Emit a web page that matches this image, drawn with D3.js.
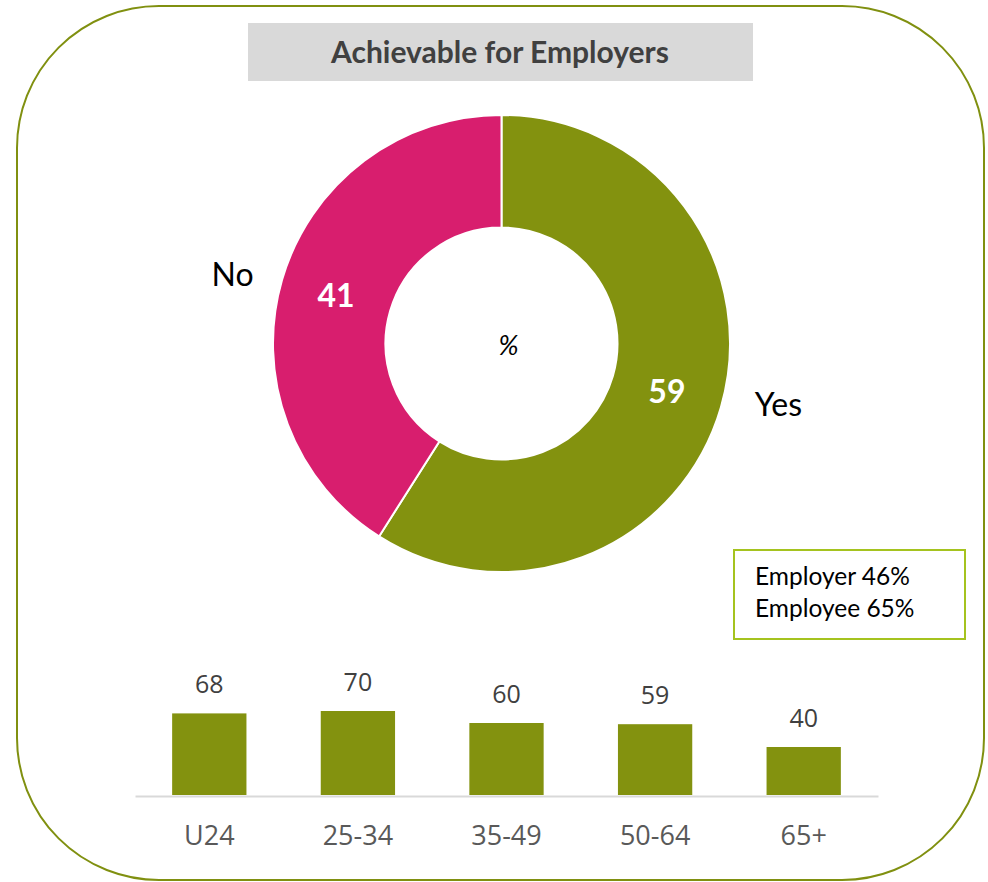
<!DOCTYPE html>
<html>
<head>
<meta charset="utf-8">
<script src="https://cdn.jsdelivr.net/npm/d3@7"></script>
<style>
  body { margin: 0; background: #fff; }
  svg { display: block; }
</style>
</head>
<body>
<div id="chart"></div>
<script>
// donut data
var pieLabels = ["Yes", "No"];
var pieValues = [59, 41];
var pieColors = ["#83920f", "#d81e6e"];

// age group bars
var ageGroups = ["U24", "25-34", "35-49", "50-64", "65+"];
var ageValues = [68, 70, 60, 59, 40];

var titleText = "Achievable for Employers";
var noteLines = ["Employer 46%", "Employee 65%"];

var width = 988, height = 882;

var svg = d3.select("#chart")
  .append("svg")
  .attr("width", width)
  .attr("height", height);

// rounded frame
svg.append("rect")
  .attr("x", 17)
  .attr("y", 6)
  .attr("width", 967)
  .attr("height", 874)
  .attr("rx", 142)
  .attr("ry", 142)
  .attr("fill", "none")
  .attr("stroke", "#809010")
  .attr("stroke-width", 2);

// title box
svg.append("rect")
  .attr("x", 248)
  .attr("y", 23)
  .attr("width", 505)
  .attr("height", 58)
  .attr("fill", "#d9d9d9");

svg.append("text")
  .attr("x", 500)
  .attr("y", 63)
  .attr("text-anchor", "middle")
  .style("font-family", "Lato, sans-serif")
  .style("font-weight", "bold")
  .style("font-size", "30px")
  .style("fill", "#404040")
  .text(titleText);

// donut
var cx = 501.5, cy = 343.5;
var outerR = 228.5, innerR = 116;

var pie = d3.pie().sort(null).value(function (d) { return d; });
var arcs = pie(pieValues);

var arc = d3.arc().innerRadius(innerR).outerRadius(outerR);
var labelArc = d3.arc().innerRadius(280).outerRadius(280);

var g = svg.append("g")
  .attr("transform", "translate(" + cx + "," + cy + ")");

g.selectAll("path")
  .data(arcs)
  .enter()
  .append("path")
  .attr("d", arc)
  .attr("fill", function (d, i) { return pieColors[i]; })
  .attr("stroke", "#fff")
  .attr("stroke-width", 2);

// values inside slices
g.selectAll("text.val")
  .data(arcs)
  .enter()
  .append("text")
  .attr("class", "val")
  .attr("transform", function (d) { return "translate(" + arc.centroid(d) + ")"; })
  .attr("dy", "0.36em")
  .attr("text-anchor", "middle")
  .style("font-family", "Lato, sans-serif")
  .style("font-weight", "bold")
  .style("font-size", "32px")
  .style("fill", "#fff")
  .text(function (d) { return d.data; });

// category names outside, pulled a little toward the horizontal
g.selectAll("text.cat")
  .data(arcs)
  .enter()
  .append("text")
  .attr("class", "cat")
  .attr("transform", function (d) {
    var c = labelArc.centroid(d);
    var sx = c[0] > 0 ? 1.03 : 1.0;
    var sy = c[1] > 0 ? 0.78 : 0.88;
    return "translate(" + (c[0] * sx) + "," + (c[1] * sy) + ")";
  })
  .attr("dy", "0.36em")
  .attr("text-anchor", "middle")
  .style("font-family", "Lato, sans-serif")
  .style("font-size", "32px")
  .style("fill", "#000")
  .text(function (d, i) { return pieLabels[i]; });

g.append("text")
  .attr("x", 7)
  .attr("y", 11)
  .attr("text-anchor", "middle")
  .style("font-family", "Lato, sans-serif")
  .style("font-style", "italic")
  .style("font-size", "27px")
  .style("fill", "#000")
  .text("%");

// note box
svg.append("rect")
  .attr("x", 734)
  .attr("y", 550)
  .attr("width", 231)
  .attr("height", 89)
  .attr("fill", "#fff")
  .attr("stroke", "#a5c31f")
  .attr("stroke-width", 2);

svg.selectAll("text.note")
  .data(noteLines)
  .enter()
  .append("text")
  .attr("class", "note")
  .attr("x", 755)
  .attr("y", function (d, i) { return 585 + i * 32; })
  .style("font-family", "Lato, sans-serif")
  .style("font-size", "24.5px")
  .style("fill", "#000")
  .text(function (d) { return d; });

// bar chart
var baseY = 795;
var x = d3.scaleBand()
  .domain(ageGroups)
  .range([135, 878])
  .paddingInner(0.5)
  .paddingOuter(0.25);

var y = d3.scaleLinear()
  .domain([0, 100])
  .range([baseY, baseY - 120]);

svg.selectAll("rect.bar")
  .data(ageValues)
  .enter()
  .append("rect")
  .attr("class", "bar")
  .attr("x", function (d, i) { return x(ageGroups[i]); })
  .attr("y", function (d) { return y(d); })
  .attr("width", x.bandwidth())
  .attr("height", function (d) { return baseY - y(d); })
  .attr("fill", "#83920f");

svg.selectAll("text.barval")
  .data(ageValues)
  .enter()
  .append("text")
  .attr("class", "barval")
  .attr("x", function (d, i) { return x(ageGroups[i]) + x.bandwidth() / 2; })
  .attr("y", function (d) { return y(d) - 20; })
  .attr("text-anchor", "middle")
  .style("font-family", "'Open Sans', sans-serif")
  .style("font-size", "25px")
  .style("fill", "#404040")
  .text(function (d) { return d; });

var xAxis = svg.append("g")
  .attr("transform", "translate(0," + (baseY + 1) + ")")
  .call(d3.axisBottom(x).tickSize(0).tickPadding(30));

xAxis.select(".domain")
  .attr("stroke", "#d9d9d9")
  .attr("stroke-width", 2);

xAxis.selectAll("text")
  .style("font-family", "'Open Sans', sans-serif")
  .style("font-size", "27px")
  .style("fill", "#595959");
</script>
</body>
</html>
